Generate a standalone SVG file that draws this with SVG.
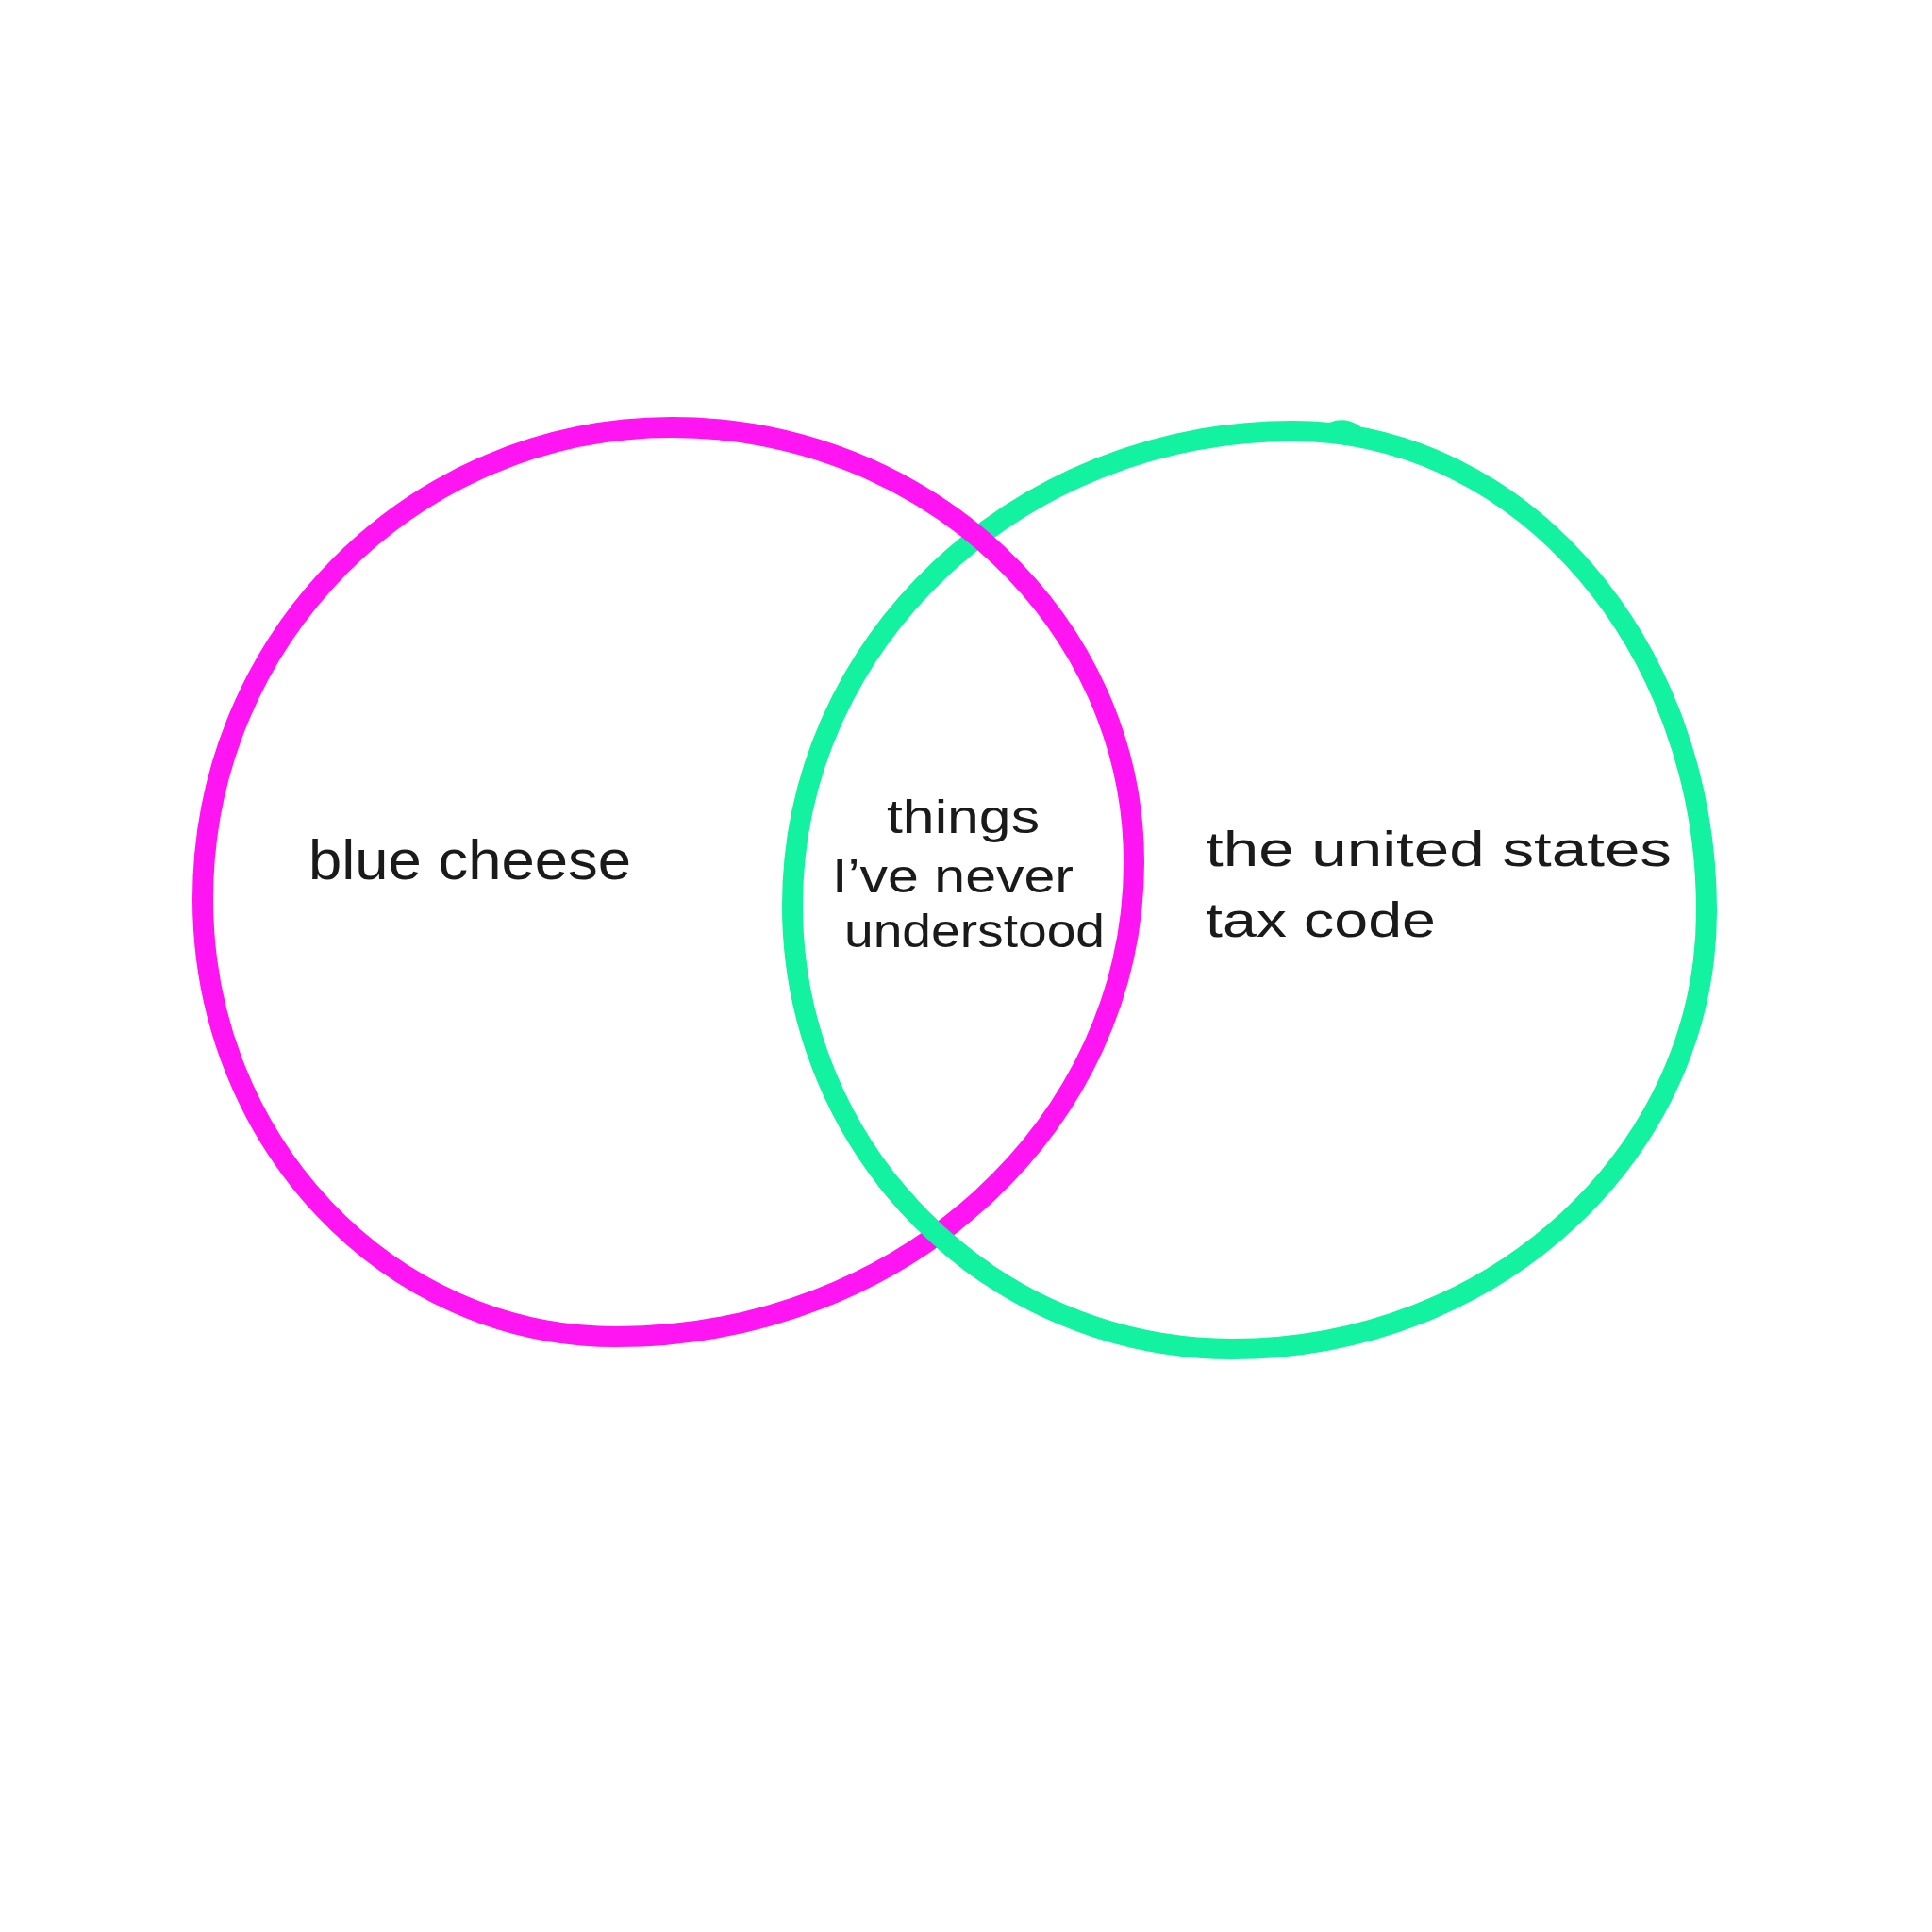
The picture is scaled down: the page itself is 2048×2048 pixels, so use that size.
<svg xmlns="http://www.w3.org/2000/svg" width="2048" height="2048" viewBox="0 0 2048 2048">
<style>
.ring{fill:none;stroke-width:22;stroke-linecap:round;stroke-linejoin:round}
.mag{stroke:#FF14F2}
.grn{stroke:#12F2A0}
.lbl{font-family:"Liberation Sans","DejaVu Sans",sans-serif;fill:#1a1a1a}
</style>
<defs>
<path id="green-ring" d="M1371,457 C1613,457 1809,685 1809,966 C1809,1222 1584,1430 1306,1430 C1049,1430 840,1219 840,960 C840,682 1078,457 1371,457 Z"/>
<clipPath id="cross-clip"><rect x="930" y="1250" width="120" height="110"/></clipPath>
</defs>
<rect width="2048" height="2048" fill="#ffffff"/>
<g id="set-b">
<use href="#green-ring" class="ring grn"/>
<path class="ring grn" d="M1414,458 Q1424,454 1434,460"/>
</g>
<g id="set-a">
<path class="ring mag" d="M712,453 C982,453 1202,660 1202,914 C1202,1192 956,1417 653,1417 C411,1417 215,1209 215,953 C215,677 438,453 712,453 Z"/>
</g>
<g id="overlap-crossing" clip-path="url(#cross-clip)">
<use href="#green-ring" class="ring grn"/>
</g>
<g id="labels">
<text class="lbl" x="327" y="932" font-size="60" textLength="342" lengthAdjust="spacingAndGlyphs">blue cheese</text>
<text class="lbl" x="940" y="883" font-size="50" textLength="162" lengthAdjust="spacingAndGlyphs">things</text>
<text class="lbl" x="882" y="946" font-size="50" textLength="256" lengthAdjust="spacingAndGlyphs">I’ve never</text>
<text class="lbl" x="895" y="1004" font-size="50" textLength="276" lengthAdjust="spacingAndGlyphs">understood</text>
<text class="lbl" x="1278" y="918" font-size="52" textLength="494" lengthAdjust="spacingAndGlyphs">the  united states</text>
<text class="lbl" x="1278" y="993" font-size="52" textLength="244" lengthAdjust="spacingAndGlyphs">tax code</text>
</g>
</svg>
